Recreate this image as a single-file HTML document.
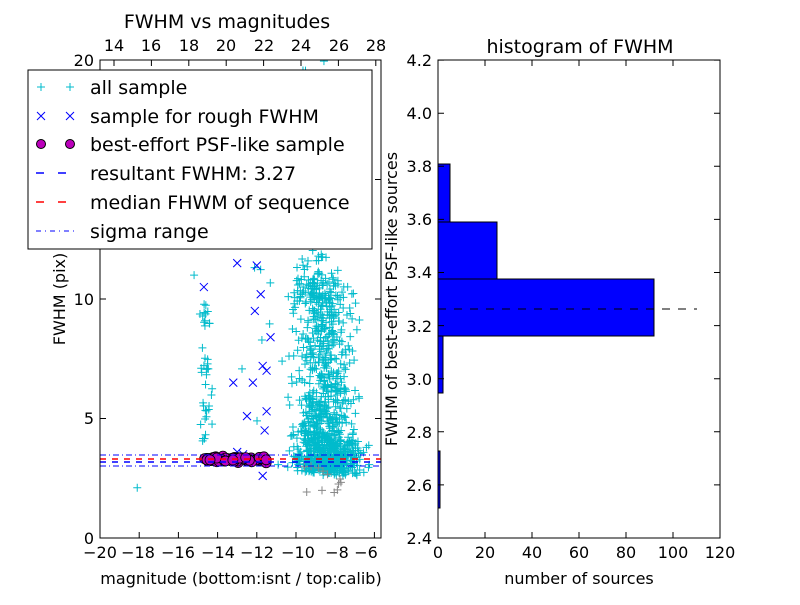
<!DOCTYPE html>
<html><head><meta charset="utf-8"><style>
body{margin:0;background:#fff;}
svg{font-family:"DejaVu Sans","Liberation Sans",sans-serif;}
</style></head><body>
<svg id="s" width="800" height="600" xmlns="http://www.w3.org/2000/svg">
<defs><clipPath id="c"><rect x="100" y="60" width="281" height="478"/></clipPath></defs>
<rect width="800" height="600" fill="#fff"/>
<g id="pts" clip-path="url(#c)"></g>
<line x1="100" y1="455" x2="381" y2="455" stroke="#00f" stroke-dasharray="6,3,1,3"/>
<line x1="100" y1="466" x2="381" y2="466" stroke="#00f" stroke-dasharray="6,3,1,3"/>
<line x1="100" y1="462" x2="381" y2="462" stroke="#00f" stroke-width="1.5" stroke-dasharray="6,6"/>
<line x1="100" y1="459" x2="381" y2="459" stroke="#f00" stroke-width="1.5" stroke-dasharray="6,6"/>
<rect x="100" y="60" width="281" height="478" fill="none" stroke="#000"/>
<g stroke="#000" id="lt"></g>
<g font-size="16" text-anchor="middle">
<text x="100" y="558">−20</text><text x="138" y="558">−18</text><text x="178" y="558">−16</text><text x="218" y="558">−14</text><text x="257" y="558">−12</text><text x="298" y="558">−10</text><text x="337" y="558">−8</text><text x="366" y="558">−6</text>
<text x="114" y="51">14</text><text x="151" y="51">16</text><text x="189" y="51">18</text><text x="226" y="51">20</text><text x="264" y="51">22</text><text x="301" y="51">24</text><text x="339" y="51">26</text><text x="376" y="51">28</text>
<text x="241" y="584">magnitude (bottom:isnt / top:calib)</text>
<text x="227" y="28" font-size="19">FWHM vs magnitudes</text>
</g>
<g font-size="16" text-anchor="end">
<text x="94" y="544">0</text><text x="94" y="424">5</text><text x="94" y="305">10</text><text x="94" y="66">20</text>
</g>
<text transform="translate(65,299) rotate(-90)" font-size="16" text-anchor="middle">FWHM (pix)</text>
<rect x="28" y="70" width="344" height="179" fill="#fff" stroke="#000"/>
<g font-size="19">
<text x="90" y="94">all sample</text>
<text x="90" y="123">sample for rough FWHM</text>
<text x="90" y="151">best-effort PSF-like sample</text>
<text x="90" y="180">resultant FWHM: 3.27</text>
<text x="90" y="209">median FHWM of sequence</text>
<text x="90" y="238">sigma range</text>
</g>
<g stroke="#0bc" stroke-width="1"><path d="M37 87h8M41 83v8M66 87h8M70 83v8"/></g>
<g stroke="#00f"><path d="M37 112l8 8M45 112l-8 8M66 112l8 8M74 112l-8 8"/></g>
<circle cx="41" cy="144" r="4.5" fill="#b0b" stroke="#000"/><circle cx="70" cy="144" r="4.5" fill="#b0b" stroke="#000"/>
<line x1="36" y1="173" x2="76" y2="173" stroke="#00f" stroke-width="1.5" stroke-dasharray="8,14"/>
<line x1="36" y1="202" x2="76" y2="202" stroke="#f00" stroke-width="1.5" stroke-dasharray="8,14"/>
<line x1="36" y1="231" x2="76" y2="231" stroke="#00f" stroke-dasharray="5,4,1,4"/>
<g fill="#00f" stroke="#000">
<rect x="438" y="164" width="12" height="58"/>
<rect x="438" y="222" width="59" height="57"/>
<rect x="438" y="279" width="216" height="57"/>
<rect x="438" y="336" width="5" height="57"/>
<rect x="438" y="451" width="2" height="57"/>
</g>
<line x1="438" y1="309" x2="697" y2="309" stroke="#000" stroke-dasharray="8,8"/>
<rect x="438" y="60" width="282" height="478" fill="none" stroke="#000"/>
<g stroke="#000" id="rt"></g>
<g font-size="16" text-anchor="end">
<text x="432" y="544">2.4</text><text x="432" y="491">2.6</text><text x="432" y="438">2.8</text><text x="432" y="385">3.0</text><text x="432" y="332">3.2</text><text x="432" y="278">3.4</text><text x="432" y="225">3.6</text><text x="432" y="172">3.8</text><text x="432" y="119">4.0</text><text x="432" y="66">4.2</text>
</g>
<g font-size="16" text-anchor="middle">
<text x="438" y="558">0</text><text x="485" y="558">20</text><text x="532" y="558">40</text><text x="579" y="558">60</text><text x="626" y="558">80</text><text x="673" y="558">100</text><text x="720" y="558">120</text>
<text x="579" y="584">number of sources</text>
<text x="580" y="53" font-size="19">histogram of FWHM</text>
</g>
<text transform="translate(397,299) rotate(-90)" font-size="16" text-anchor="middle">FWHM of best-effort PSF-like sources</text>
</svg>
<script>
var g=document.getElementById('pts'),h="";
var seed=7;function r(){seed=(seed*16807)%2147483647;return seed/2147483647;}
function n(){return (r()+r()+r()+r()-2)/1.2;}
function X(m){return 100+(m+20)*19.6;}function Y(f){return 538-f*23.9;}
function plus(x,y,c){h+='<path d="M'+(x-4)+' '+y+'h8M'+x+' '+(y-4)+'v8" stroke="'+c+'"/>';}
function cross(x,y){h+='<path d="M'+(x-4)+' '+(y-4)+'l8 8M'+(x+4)+' '+(y-4)+'l-8 8" stroke="#00f"/>';}
for(var i=0;i<900;i++){var f=3+Math.pow(r(),2.2)*8;var m=-8.6+n()*1.3+(r()-0.5)*1.2;plus(X(m),Y(f+(r()-0.5)*0.6),"#0bc");}
for(var i=0;i<120;i++){var f=10+Math.pow(r(),1.5)*10;plus(X(-9.2+n()*1.1),Y(f),"#0bc");}
for(var i=0;i<150;i++){plus(X(-7.8+n()*1.4),Y(2.6+r()*1.4),"#0bc");}
for(var i=0;i<40;i++){plus(X(-14.6+n()*0.3),Y(3.8+r()*6),"#0bc");}
for(var i=0;i<15;i++){plus(X(-11+n()*2),Y(4+r()*10),"#0bc");}
for(var i=0;i<12;i++){plus(X(-8.5+n()*1.5),Y(1.7+r()*1.5),"#888");}
plus(X(-18.1),Y(2.1),"#0bc");plus(X(-15.2),Y(11),"#0bc");
var cx=[[-13,11.5],[-12,11.4],[-14.7,10.5],[-11.8,10.2],[-12.1,9.5],[-11.3,8.4],[-11.7,7.2],[-11.5,7],[-13.2,6.5],[-12.2,6.5],[-12.5,5.1],[-11.5,5.3],[-11.6,4.5],[-11.7,2.6],[-13,3.6],[-12.7,3.5]];
cx.forEach(function(p){cross(X(p[0]),Y(p[1]));});
for(var i=0;i<90;i++){var x=X(-14.7+r()*3.2),y=Y(3.3+n()*0.12);h+='<circle cx="'+x+'" cy="'+y+'" r="5" fill="#b0b" stroke="#000" stroke-width="0.8"/>';}
g.innerHTML=h;
var t="";
[-20,-18,-16,-14,-12,-10,-8,-6].forEach(function(m){var x=X(m);t+='<path d="M'+x+' 538v-6"/>';});
[14,16,18,20,22,24,26,28].forEach(function(m){var x=114+(m-14)*18.7;t+='<path d="M'+x+' 60v6"/>';});
[0,5,10,15,20].forEach(function(f){var y=Y(f);t+='<path d="M100 '+y+'h6M381 '+y+'h-6"/>';});
document.getElementById('lt').innerHTML=t;t="";
for(var k=0;k<=9;k++){var y=538-k*53.1;t+='<path d="M438 '+y+'h6M720 '+y+'h-6"/>';}
for(var k=0;k<=6;k++){var x=438+k*47;t+='<path d="M'+x+' 538v-6M'+x+' 60v6"/>';}
document.getElementById('rt').innerHTML=t;
</script>
</body></html>
